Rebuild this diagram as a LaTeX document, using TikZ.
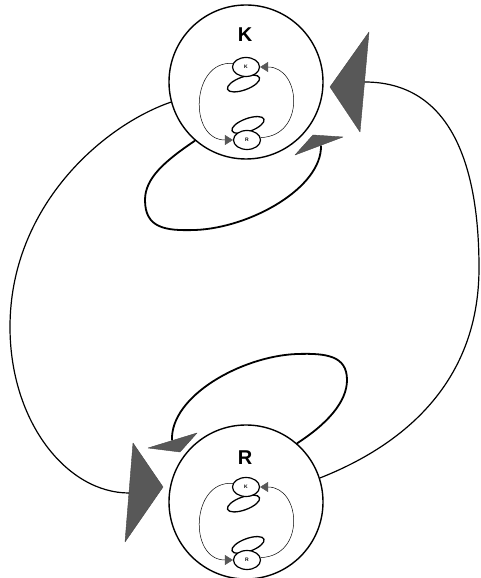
\documentclass[tikz,border=0pt]{standalone}
\usepackage{fontspec}
\setmainfont{Liberation Sans}
\usetikzlibrary{shapes.geometric,arrows.meta}
\definecolor{tri}{RGB}{88,88,88}
\begin{document}
\begin{tikzpicture}[x=1pt,y=1pt,
  bigcirc/.style={draw, circle, minimum size=154pt, inner sep=0pt, line width=1.4pt},
  smallell/.style={draw, fill=white, ellipse, minimum width=27pt, minimum height=19pt, inner sep=0pt, line width=1.2pt, font=\fontsize{5}{5}\selectfont\bfseries},
  loopline/.style={line width=1.3pt},
  thinarc/.style={line width=0.5pt, -{Triangle[length=8pt,width=10pt,color=tri]}},
  bigcurve/.style={line width=1.2pt},
  thickloop/.style={line width=1.8pt},
  trifill/.style={fill=tri, draw=tri!80!black, line width=0.4pt, line join=round},
  biglabel/.style={font=\fontsize{20}{20}\selectfont\bfseries},
  inner/.pic={
    \draw[loopline, rotate around={20:(-2.5,-1.5)}] (-2.5,-1.5) ellipse [x radius=17, y radius=6.5];
    \draw[loopline, rotate around={20:(2,-43)}] (2,-43) ellipse [x radius=17, y radius=6.5];
    \node[smallell] (-k) at (0,15) {K};
    \node[smallell] (-r) at (1,-58) {R};
    \draw[thinarc] (-k.165) .. controls (-55,22) and (-58,-58) .. (-r.west);
    \draw[thinarc] (-r.10) .. controls (60,-54) and (55,15) .. (-k.east);
  }
]
\useasboundingbox (0,0) rectangle (481,578);
\fill[white] (0,0) rectangle (481,578);
% main circles
\node[bigcirc] (K) at (246,496) {};
\node[bigcirc] (R) at (246,76) {};
\node[biglabel] (Kl) at (245,543) {K};
\node[biglabel] (Rl) at (245,120) {R};
\pic (ki) at (246,496) {inner};
\pic (ri) at (246,76) {inner};
% big arrowheads
\coordinate (t1a) at (330,491);
\coordinate (t1b) at (369,546);
\coordinate (t1c) at (360,446);
\coordinate (t1m) at (364.5,496);
\fill[trifill] (t1a) -- (t1b) -- (t1c) -- cycle;
\coordinate (t2a) at (163,91);
\coordinate (t2b) at (133,135);
\coordinate (t2c) at (125,36);
\coordinate (t2m) at (129,85);
\fill[trifill] (t2a) -- (t2b) -- (t2c) -- cycle;
% big curves
\draw[bigcurve] (K.195) .. controls (102,452) and (10,371) .. (10,251)
  .. controls (10,156) and (67,85) .. (t2m);
\draw[bigcurve] (t1m) .. controls (447,496) and (479,420) .. (479,310)
  .. controls (479,190) and (396,130) .. (R.18);
% small arrowheads
\coordinate (s1a) at (295,423);
\coordinate (s1b) at (343,441);
\coordinate (s1c) at (313,443);
\coordinate (ta) at (321,432.5);
\coordinate (s2a) at (148,130);
\coordinate (s2b) at (197,145);
\coordinate (s2c) at (180,126);
\coordinate (tb) at (172,137.5);
% thick loops
\draw[thickloop] (K.229) .. controls (165,417) and (145,400) .. (145,378)
  .. controls (145,350) and (165,347) .. (195,348)
  .. controls (250,350) and (322,390) .. (ta);
\draw[thickloop] (R.49) .. controls (327,154) and (347,176) .. (347,198)
  .. controls (347,222) and (327,225) .. (297,224)
  .. controls (242,222) and (170,182) .. (tb);
\fill[trifill] (s1a) -- (s1b) -- (s1c) -- cycle;
\fill[trifill] (s2a) -- (s2b) -- (s2c) -- cycle;
\end{tikzpicture}
\end{document}
